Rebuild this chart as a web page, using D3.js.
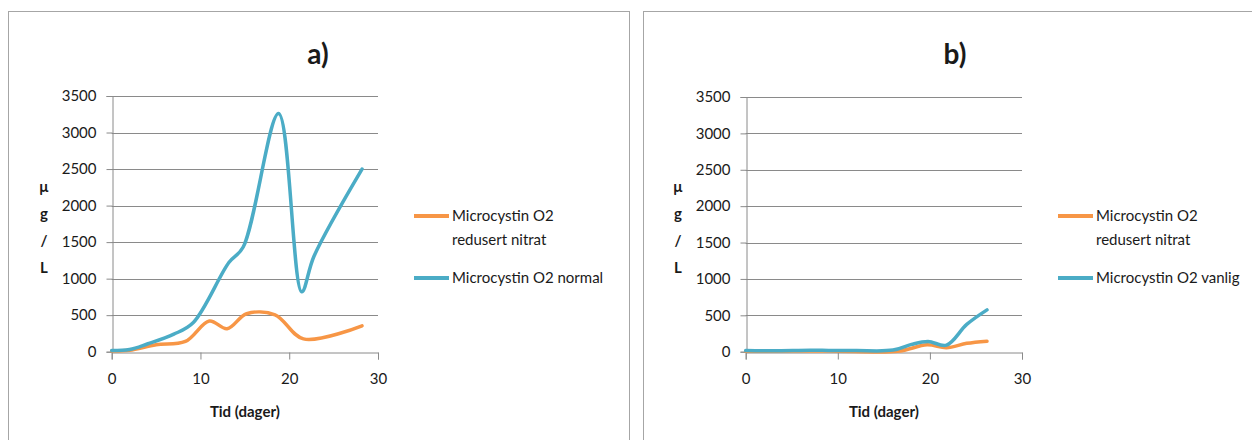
<!DOCTYPE html>
<html>
<head>
<meta charset="utf-8">
<script src="https://cdn.jsdelivr.net/npm/d3@7"></script>
<style>
  html, body { margin: 0; padding: 0; background: #fff; }
  svg { display: block; }
  text { font-family: Lato, "Open Sans", sans-serif; fill: #1a1a1a; }
</style>
</head>
<body>
<svg id="chart" width="1252" height="440"></svg>
<script>
// Shared axis ticks
const xTicks = [0, 10, 20, 30];
const yTicks = [0, 500, 1000, 1500, 2000, 2500, 3000, 3500];
const yLabelLetters = ["µ", "g", "/", "L"];

// Panel a) — days and microcystin concentration (µg/L)
const aReducedDays   = [0, 2, 5, 8.3, 11, 13, 15.2, 18.4, 21.6, 28.2];
const aReducedValues = [10, 20, 95, 140, 420, 315, 520, 505, 175, 355];
const aNormalDays    = [0, 2, 4, 7, 9.2, 13.2, 14.8, 18.8, 21.4, 22.8, 28.2];
const aNormalValues  = [15, 30, 105, 240, 400, 1220, 1430, 3260, 820, 1310, 2500];

// Panel b)
const bReducedDays   = [0, 9, 16.5, 19.7, 21.8, 24, 26.2];
const bReducedValues = [5, 10, 5, 95, 55, 115, 145];
const bNormalDays    = [0, 3, 7, 9, 12, 16, 18, 19.8, 21.8, 24, 26.2];
const bNormalValues  = [15, 12, 20, 18, 15, 22, 100, 140, 90, 375, 575];

const seriesColors = { reduced: "#F79646", normal: "#4BACC6" };

const panels = [
  {
    title: "a)", titleX: 318,
    frame: [8.5, 11.5, 621, 440],
    x: [111.7, 378], y: [351.7, 96],
    yLabelX: 44,
    reduced: { days: aReducedDays, values: aReducedValues },
    normal:  { days: aNormalDays,  values: aNormalValues },
    legendX: 414,
    legend: [["Microcystin O2", "redusert nitrat"], ["Microcystin O2 normal"]]
  },
  {
    title: "b)", titleX: 955,
    frame: [643.5, 11.5, 620, 440],
    x: [745.7, 1022], y: [351.7, 97],
    yLabelX: 678,
    reduced: { days: bReducedDays, values: bReducedValues },
    normal:  { days: bNormalDays,  values: bNormalValues },
    legendX: 1058,
    legend: [["Microcystin O2", "redusert nitrat"], ["Microcystin O2 vanlig"]]
  }
];

const svg = d3.select("#chart");
const gridColor = "#8a8a8a";
const font = "Lato, 'Open Sans', sans-serif";

panels.forEach(p => {
  const g = svg.append("g");

  // Panel frame
  g.append("rect")
    .attr("x", p.frame[0]).attr("y", p.frame[1])
    .attr("width", p.frame[2]).attr("height", p.frame[3])
    .attr("fill", "#fff").attr("stroke", "#a6a6a6").attr("stroke-width", 1);

  const x = d3.scaleLinear().domain([0, 30]).range(p.x);
  const y = d3.scaleLinear().domain([0, 3500]).range(p.y);

  // Horizontal gridlines
  g.append("g").selectAll("line").data(yTicks.filter(t => t > 0)).join("line")
    .attr("x1", x(0)).attr("x2", x(30))
    .attr("y1", d => Math.round(y(d)) + 0.5).attr("y2", d => Math.round(y(d)) + 0.5)
    .attr("stroke", gridColor).attr("stroke-width", 1);

  // Y axis
  const yAxis = g.append("g")
    .attr("transform", `translate(${Math.round(x(0)) + 0.5},0)`)
    .call(d3.axisLeft(y).tickValues(yTicks).tickSize(6).tickPadding(10).tickFormat(d3.format("d")));
  yAxis.select(".domain").attr("stroke", gridColor);
  yAxis.selectAll(".tick line").attr("stroke", gridColor);
  yAxis.selectAll(".tick text")
    .attr("font-size", 15).attr("fill", "#1a1a1a")
    .style("font-family", font);

  // X axis
  const xAxis = g.append("g")
    .attr("transform", `translate(0,${Math.round(y(0)) + 0.5})`)
    .call(d3.axisBottom(x).tickValues(xTicks).tickSize(7).tickPadding(14));
  xAxis.select(".domain").attr("stroke", gridColor);
  xAxis.selectAll(".tick line").attr("stroke", gridColor);
  xAxis.selectAll(".tick text")
    .attr("font-size", 15).attr("fill", "#1a1a1a")
    .style("font-family", font);

  // Smoothed series lines
  const line = d3.line()
    .x(d => x(d[0])).y(d => y(d[1]))
    .curve(d3.curveCatmullRom.alpha(0.5));

  [["reduced", p.reduced], ["normal", p.normal]].forEach(([key, s]) => {
    const pts = s.days.map((d, i) => [d, s.values[i]]);
    g.append("path")
      .datum(pts)
      .attr("d", line)
      .attr("fill", "none")
      .attr("stroke", seriesColors[key])
      .attr("stroke-width", 3.5)
      .attr("stroke-linejoin", "round")
      .attr("stroke-linecap", "round");
  });

  // Title
  g.append("text")
    .attr("x", p.titleX).attr("y", 64)
    .attr("text-anchor", "middle")
    .attr("font-size", 28).attr("font-weight", "bold")
    .text(p.title);

  // Stacked y-axis label
  g.append("g").selectAll("text").data(yLabelLetters).join("text")
    .attr("x", p.yLabelX).attr("y", (d, i) => 192 + i * 27)
    .attr("text-anchor", "middle")
    .attr("font-size", 15).attr("font-weight", "bold")
    .text(d => d);

  // X-axis title
  g.append("text")
    .attr("x", (x(0) + x(30)) / 2).attr("y", 417)
    .attr("text-anchor", "middle")
    .attr("font-size", 15).attr("font-weight", "bold")
    .text("Tid (dager)");

  // Legend
  const legendRows = [
    { key: "reduced", lines: p.legend[0], y: 216 },
    { key: "normal", lines: p.legend[1], y: 278 }
  ];
  legendRows.forEach(r => {
    g.append("line")
      .attr("x1", p.legendX).attr("x2", p.legendX + 35)
      .attr("y1", r.y).attr("y2", r.y)
      .attr("stroke", seriesColors[r.key]).attr("stroke-width", 4);
    r.lines.forEach((t, i) => {
      g.append("text")
        .attr("x", p.legendX + 38).attr("y", r.y + 5 + i * 24)
        .attr("font-size", 15)
        .text(t);
    });
  });
});
</script>
</body>
</html>
